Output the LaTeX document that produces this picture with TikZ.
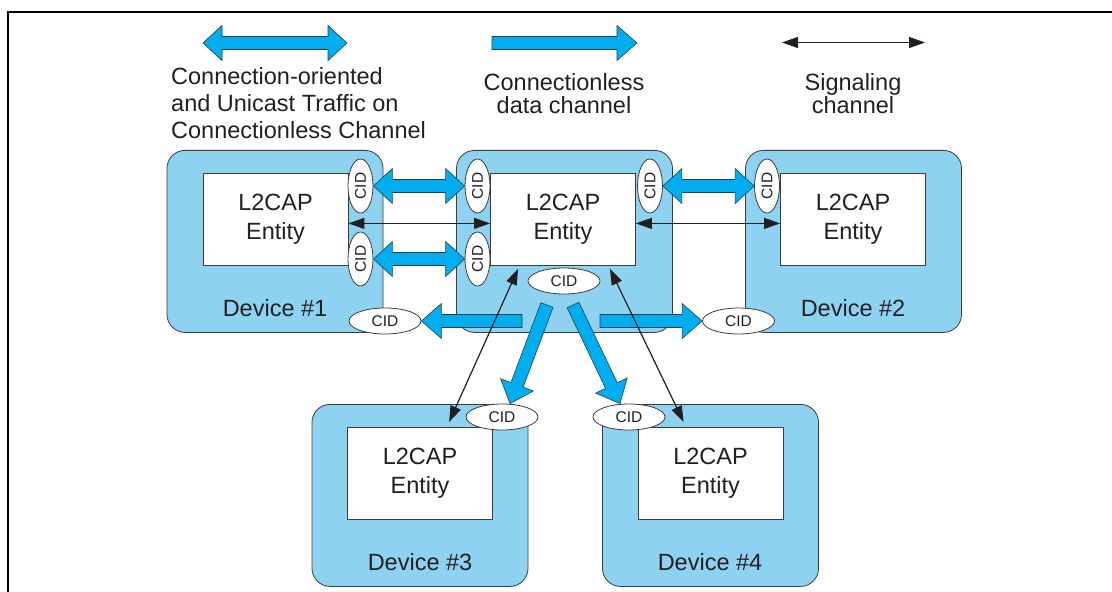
\documentclass[tikz,border=0pt]{standalone}
\usepackage{fontspec}
\setmainfont{Liberation Sans}
\usetikzlibrary{arrows.meta,calc,shapes.geometric}
\definecolor{devblue}{RGB}{142,210,242}
\definecolor{arrcyan}{RGB}{0,174,239}
\definecolor{txt}{RGB}{35,31,32}
\definecolor{edgecol}{RGB}{60,60,60}
\definecolor{arrline}{RGB}{40,60,80}
\tikzset{
  device/.style={draw=edgecol, line width=0.8bp, fill=devblue, rounded corners=18bp,
    minimum width=216bp, minimum height=182bp, inner sep=0pt, anchor=north},
  entity/.style={draw=edgecol, line width=0.8bp, fill=white, minimum width=145bp,
    minimum height=92bp, inner sep=0pt, align=center, anchor=north, text=txt,
    font=\fontsize{23.5bp}{28.5bp}\selectfont},
  devlabel/.style={inner sep=0pt, text=txt, font=\fontsize{23.5bp}{28bp}\selectfont},
  legtxt/.style={inner sep=0pt, text=txt},
  cid/.style={ellipse, draw=edgecol, line width=0.8bp, fill=white, minimum width=72bp,
    minimum height=26bp, inner sep=0pt, text=txt, font=\fontsize{15.5bp}{18bp}\selectfont},
  vcid/.style={cid, rotate=90, minimum width=54bp, minimum height=25bp},
  sig/.style={{Triangle[length=16bp,width=11bp]}-{Triangle[length=16bp,width=11bp]},
    line width=1.2bp, draw=txt, fill=txt},
  fatsingle/.style={draw=arrline, fill=arrcyan, line width=0.6bp, line join=miter,
    to path={
      ($(\tikztostart)!6.5bp!90:(\tikztotarget)$)
      -- ($(\tikztotarget)!20bp!(\tikztostart)!6.5bp!90:(\tikztotarget)$)
      -- ($(\tikztotarget)!20bp!(\tikztostart)!17.5bp!90:(\tikztotarget)$)
      -- (\tikztotarget)
      -- ($(\tikztotarget)!20bp!(\tikztostart)!17.5bp!-90:(\tikztotarget)$)
      -- ($(\tikztotarget)!20bp!(\tikztostart)!6.5bp!-90:(\tikztotarget)$)
      -- ($(\tikztostart)!6.5bp!-90:(\tikztotarget)$)
      -- cycle}},
  fatdouble/.style={draw=arrline, fill=arrcyan, line width=0.6bp, line join=miter,
    to path={
      (\tikztostart)
      -- ($(\tikztostart)!19bp!(\tikztotarget)!17.5bp!90:(\tikztotarget)$)
      -- ($(\tikztostart)!19bp!(\tikztotarget)!6.5bp!90:(\tikztotarget)$)
      -- ($(\tikztotarget)!19bp!(\tikztostart)!6.5bp!90:(\tikztotarget)$)
      -- ($(\tikztotarget)!19bp!(\tikztostart)!17.5bp!90:(\tikztotarget)$)
      -- (\tikztotarget)
      -- ($(\tikztotarget)!19bp!(\tikztostart)!17.5bp!-90:(\tikztotarget)$)
      -- ($(\tikztotarget)!19bp!(\tikztostart)!6.5bp!-90:(\tikztotarget)$)
      -- ($(\tikztostart)!19bp!(\tikztotarget)!6.5bp!-90:(\tikztotarget)$)
      -- ($(\tikztostart)!19bp!(\tikztotarget)!17.5bp!-90:(\tikztotarget)$)
      -- cycle}}
}
\begin{document}
\begin{tikzpicture}[x=1bp,y=-1bp]
\useasboundingbox (0,0) rectangle (1112,592);
% frame
\draw[line width=2.5bp, black] (8,592) -- (8,12) -- (1112,12);

% legend
\coordinate (lgA1) at (203,43); \coordinate (lgA2) at (347,43);
\coordinate (lgB1) at (492,43); \coordinate (lgB2) at (637,43);
\coordinate (lgC1) at (782,42.5); \coordinate (lgC2) at (925,42.5);
\draw[fatdouble] (lgA1) to (lgA2);
\draw[fatsingle] (lgB1) to (lgB2);
\draw[sig] (lgC1) -- (lgC2);
\node[legtxt, anchor=west, align=left, font=\fontsize{23.5bp}{27bp}\selectfont] (lt1) at (171,103)
  {Connection-oriented\\and Unicast Traffic on\\Connectionless Channel};
\node[legtxt, align=center, font=\fontsize{23.5bp}{22.5bp}\selectfont] (lt2) at (564,93.5)
  {Connectionless\\data channel};
\node[legtxt, align=center, font=\fontsize{23.5bp}{22.5bp}\selectfont] (lt3) at (853,93.5)
  {Signaling\\channel};

% devices
\node[device] (d1) at (275,150) {};
\node[device] (dC) at (564.5,150) {};
\node[device] (d2) at (853.5,150) {};
\node[device] (d3) at (420,404) {};
\node[device] (d4) at (710.5,404) {};

\node[entity] (e1) at (275.5,173) {L2CAP\\Entity};
\node[entity] (eC) at (563,173) {L2CAP\\Entity};
\node[entity] (e2) at (853,173) {L2CAP\\Entity};
\node[entity] (e3) at (420,427) {L2CAP\\Entity};
\node[entity] (e4) at (710.5,427) {L2CAP\\Entity};

\node[devlabel] (l1) at (275,308) {Device \#1};
\node[devlabel] (l2) at (853,308) {Device \#2};
\node[devlabel] (l3) at (420,562) {Device \#3};
\node[devlabel] (l4) at (710,562) {Device \#4};

% CIDs
\node[vcid] (c1a) at (360.5,186) {CID};
\node[vcid] (c1b) at (360.5,259) {CID};
\node[vcid] (cCa) at (477.5,186) {CID};
\node[vcid] (cCb) at (477.5,259) {CID};
\node[vcid] (cCr) at (650,186) {CID};
\node[vcid] (c2) at (767,186) {CID};
\node[cid] (cC) at (564,281) {CID};
\node[cid] (cd1) at (385,321) {CID};
\node[cid] (cd2) at (738.5,321) {CID};
\node[cid] (cd3) at (502,417) {CID};
\node[cid] (cd4) at (629,417) {CID};

% connection-oriented fat double arrows
\draw[fatdouble] (c1a.south) to (cCa.north);
\draw[fatdouble] (c1b.south) to (cCb.north);
\draw[fatdouble] (cCr.south) to (c2.north);

% connectionless data arrows
\coordinate (sL) at (522,321);
\coordinate (sR) at (600,321);
\coordinate (sDL) at (547,305);
\coordinate (sDR) at (573,305);
\coordinate (tDL) at ($(cd3.north)+(8,0)$);
\coordinate (tDR) at ($(cd4.north)+(-9,0)$);
\draw[fatsingle] (sL) to (cd1.east);
\draw[fatsingle] (sR) to (cd2.west);
\draw[fatsingle] (sDL) to (tDL);
\draw[fatsingle] (sDR) to (tDR);

% signaling
\draw[sig] ([yshift=-4bp]e1.east) -- ([yshift=-4bp]eC.west);
\draw[sig] ([yshift=-4bp]eC.east) -- ([yshift=-4bp]e2.west);
\draw[sig] ($(eC.south west)+(28,3)$) -- ($(e3.north west)+(102,-5)$);
\draw[sig] ($(eC.south east)+(-26,3)$) -- ($(e4.north west)+(46,-5)$);
\end{tikzpicture}
\end{document}
